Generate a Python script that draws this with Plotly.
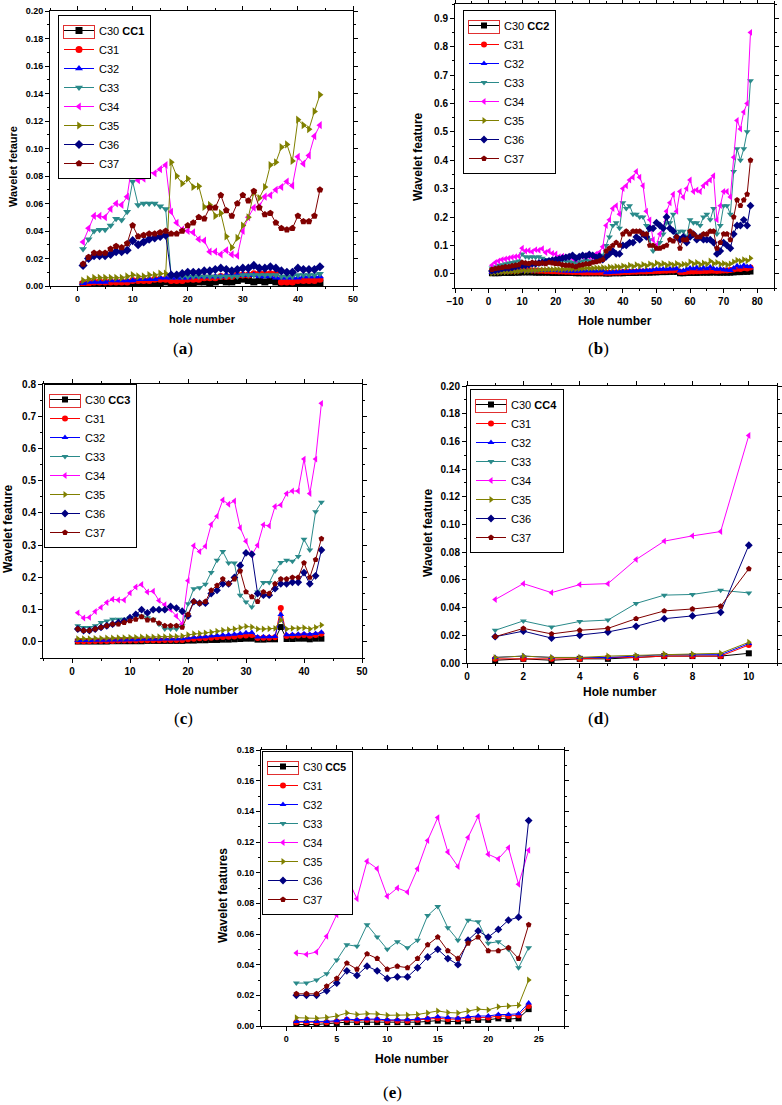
import plotly.graph_objects as go

W, H = 782, 1105

names = ["C30", "C31", "C32", "C33", "C34", "C35", "C36", "C37"]
colors = ["#000000", "#FF0000", "#0000FF", "#2A8A8A", "#FF00FF", "#808000", "#000080", "#800000"]
symbols = ["square", "circle", "triangle-up", "triangle-down", "triangle-left",
           "triangle-right", "diamond", "pentagon"]

# ---------------- (a) CC1 ----------------
a_x = list(range(1, 45))
a_C30 = [0.001,0.001,0.001,0.001,0.001,0.001,0.001,0.001,0.002,0.002,0.002,0.002,0.002,0.002,0.002,0.003,0.002,0.002,0.001,0.002,0.002,0.003,0.003,0.002,0.003,0.004,0.003,0.003,0.004,0.005,0.004,0.003,0.004,0.003,0.004,0.003,0.001,0.001,0.001,0.001,0.001,0.001,0.001,0.002]
a_C31 = [0.002,0.002,0.003,0.003,0.003,0.003,0.003,0.003,0.003,0.004,0.004,0.004,0.004,0.005,0.005,0.005,0.004,0.004,0.004,0.005,0.005,0.005,0.006,0.006,0.006,0.007,0.007,0.007,0.008,0.008,0.008,0.009,0.009,0.009,0.009,0.009,0.003,0.003,0.003,0.004,0.004,0.004,0.004,0.005]
a_C32 = [0.002,0.003,0.003,0.003,0.003,0.004,0.004,0.004,0.004,0.004,0.005,0.005,0.005,0.005,0.006,0.006,0.006,0.006,0.006,0.006,0.007,0.007,0.007,0.007,0.007,0.007,0.008,0.008,0.008,0.008,0.008,0.008,0.007,0.007,0.007,0.006,0.006,0.006,0.006,0.006,0.007,0.007,0.007,0.007]
a_C33 = [0.027,0.034,0.040,0.041,0.041,0.044,0.049,0.048,0.054,0.076,0.059,0.060,0.060,0.060,0.058,0.056,0.007,0.007,0.007,0.007,0.007,0.007,0.007,0.007,0.007,0.007,0.007,0.007,0.007,0.008,0.008,0.008,0.008,0.008,0.008,0.008,0.007,0.007,0.007,0.008,0.008,0.008,0.008,0.009]
a_C34 = [0.032,0.042,0.051,0.051,0.050,0.056,0.060,0.059,0.065,0.0915,0.077,0.078,0.083,0.082,0.085,0.088,0.054,0.046,0.041,0.040,0.039,0.034,0.033,0.025,0.025,0.023,0.026,0.023,0.022,0.040,0.050,0.057,0.058,0.065,0.066,0.070,0.072,0.076,0.073,0.094,0.089,0.095,0.109,0.117]
a_C35 = [0.004,0.005,0.006,0.006,0.006,0.006,0.006,0.006,0.007,0.008,0.007,0.007,0.008,0.008,0.009,0.009,0.090,0.080,0.0745,0.078,0.072,0.0725,0.0575,0.059,0.051,0.053,0.036,0.028,0.035,0.044,0.050,0.068,0.064,0.072,0.088,0.090,0.101,0.103,0.091,0.121,0.117,0.114,0.127,0.139]
a_C36 = [0.015,0.020,0.022,0.022,0.022,0.023,0.025,0.025,0.026,0.033,0.030,0.032,0.034,0.035,0.036,0.037,0.008,0.008,0.009,0.010,0.010,0.010,0.011,0.011,0.012,0.013,0.012,0.011,0.012,0.013,0.013,0.015,0.013,0.013,0.014,0.013,0.011,0.010,0.010,0.013,0.012,0.012,0.012,0.014]
a_C37 = [0.016,0.021,0.024,0.024,0.024,0.027,0.029,0.028,0.031,0.044,0.036,0.037,0.038,0.038,0.039,0.040,0.038,0.038,0.040,0.044,0.046,0.050,0.049,0.057,0.057,0.066,0.055,0.051,0.060,0.066,0.062,0.069,0.057,0.052,0.053,0.046,0.042,0.041,0.042,0.051,0.047,0.047,0.051,0.070]

# ---------------- (b) CC2 ----------------
b_x = list(range(1, 79))
b_C30 = [0.002,0.002,0.002,0.003,0.003,0.003,0.003,0.004,0.004,0.005,
         0.005,0.005,0.005,0.004,0.004,0.004,0.004,0.004,0.003,0.003,
         0.003,0.003,0.003,0.003,0.003,0.002,0.002,0.002,0.002,0.002,
         0.002,0.002,0.002,0.002,0.001,0.001,0.002,0.002,0.002,0.002,
         0.003,0.003,0.003,0.003,0.004,0.004,0.004,0.004,0.005,0.005,
         0.006,0.006,0.006,0.007,0.007,0.007,0.002,0.002,0.003,0.003,
         0.003,0.003,0.004,0.004,0.004,0.004,0.005,0.004,0.004,0.004,
         0.004,0.004,0.005,0.006,0.006,0.007,0.007,0.008]
b_C31 = [0.008,0.009,0.009,0.010,0.010,0.011,0.011,0.012,0.012,0.015,
         0.013,0.013,0.012,0.012,0.011,0.011,0.010,0.010,0.009,0.009,
         0.008,0.008,0.007,0.007,0.006,0.006,0.006,0.005,0.005,0.005,
         0.005,0.005,0.005,0.005,0.004,0.004,0.005,0.005,0.005,0.006,
         0.006,0.006,0.007,0.007,0.008,0.008,0.008,0.009,0.009,0.010,
         0.010,0.011,0.011,0.012,0.012,0.013,0.006,0.006,0.007,0.008,
         0.008,0.009,0.009,0.010,0.010,0.011,0.011,0.010,0.011,0.012,
         0.012,0.013,0.015,0.018,0.017,0.020,0.019,0.022]
b_C32 = [0.005,0.006,0.006,0.007,0.007,0.008,0.008,0.009,0.009,0.012,
         0.010,0.010,0.011,0.011,0.012,0.012,0.012,0.013,0.012,0.012,
         0.011,0.011,0.010,0.010,0.009,0.009,0.010,0.010,0.011,0.011,
         0.010,0.010,0.011,0.011,0.004,0.005,0.006,0.006,0.007,0.008,
         0.008,0.009,0.010,0.010,0.012,0.011,0.013,0.012,0.014,0.016,
         0.015,0.017,0.016,0.018,0.017,0.019,0.010,0.012,0.016,0.020,
         0.018,0.022,0.017,0.021,0.018,0.024,0.019,0.016,0.018,0.014,
         0.013,0.012,0.020,0.028,0.024,0.030,0.026,0.025]
b_C33 = [0.020,0.025,0.030,0.032,0.035,0.038,0.040,0.042,0.045,0.070,
         0.060,0.058,0.060,0.058,0.060,0.055,0.050,0.048,0.050,0.045,
         0.045,0.048,0.045,0.042,0.040,0.038,0.042,0.045,0.048,0.045,
         0.045,0.050,0.055,0.065,0.100,0.130,0.170,0.180,0.160,0.250,
         0.230,0.240,0.210,0.210,0.200,0.200,0.170,0.120,0.080,0.100,
         0.110,0.140,0.180,0.180,0.210,0.140,0.150,0.150,0.130,0.190,
         0.180,0.180,0.170,0.200,0.210,0.190,0.230,0.140,0.170,0.240,
         0.240,0.210,0.360,0.440,0.400,0.440,0.500,0.680]
b_C34 = [0.030,0.040,0.045,0.050,0.052,0.055,0.058,0.060,0.062,0.090,
         0.080,0.082,0.078,0.085,0.083,0.088,0.075,0.080,0.072,0.070,
         0.060,0.062,0.058,0.060,0.055,0.050,0.058,0.062,0.065,0.060,
         0.058,0.070,0.075,0.095,0.170,0.190,0.230,0.240,0.210,0.300,
         0.310,0.330,0.340,0.360,0.340,0.310,0.220,0.190,0.120,0.100,
         0.140,0.160,0.220,0.250,0.280,0.220,0.290,0.270,0.300,0.330,
         0.290,0.295,0.290,0.310,0.320,0.330,0.345,0.190,0.240,0.290,
         0.290,0.270,0.410,0.540,0.510,0.570,0.600,0.850]
b_C35 = [0.003,0.004,0.005,0.006,0.006,0.007,0.008,0.008,0.009,0.012,
         0.010,0.011,0.012,0.012,0.013,0.014,0.014,0.015,0.015,0.016,
         0.015,0.016,0.017,0.016,0.018,0.017,0.018,0.019,0.020,0.019,
         0.020,0.021,0.020,0.022,0.020,0.024,0.022,0.026,0.023,0.028,
         0.024,0.030,0.026,0.032,0.027,0.033,0.028,0.035,0.030,0.038,
         0.032,0.036,0.030,0.035,0.031,0.036,0.030,0.034,0.032,0.042,
         0.035,0.040,0.033,0.038,0.034,0.045,0.036,0.040,0.034,0.036,
         0.032,0.035,0.042,0.048,0.044,0.050,0.046,0.055]
b_C36 = [0.010,0.012,0.015,0.018,0.020,0.020,0.022,0.025,0.028,0.030,
         0.030,0.032,0.035,0.035,0.038,0.040,0.042,0.045,0.048,0.050,
         0.052,0.055,0.058,0.060,0.065,0.055,0.060,0.065,0.062,0.068,
         0.065,0.058,0.062,0.050,0.060,0.070,0.080,0.070,0.070,0.100,
         0.100,0.110,0.110,0.130,0.120,0.140,0.130,0.160,0.160,0.180,
         0.170,0.160,0.200,0.160,0.150,0.130,0.120,0.130,0.110,0.130,
         0.140,0.120,0.130,0.120,0.120,0.120,0.110,0.070,0.080,0.110,
         0.100,0.090,0.140,0.170,0.170,0.190,0.170,0.240]
b_C37 = [0.015,0.018,0.020,0.022,0.025,0.025,0.028,0.030,0.032,0.040,
         0.038,0.036,0.040,0.038,0.036,0.038,0.035,0.040,0.038,0.036,
         0.035,0.032,0.030,0.030,0.028,0.025,0.030,0.032,0.035,0.035,
         0.040,0.042,0.045,0.050,0.080,0.090,0.100,0.110,0.100,0.140,
         0.150,0.140,0.150,0.150,0.150,0.140,0.140,0.100,0.100,0.090,
         0.090,0.095,0.100,0.120,0.115,0.130,0.090,0.120,0.120,0.150,
         0.140,0.130,0.130,0.140,0.140,0.150,0.150,0.090,0.110,0.140,
         0.140,0.120,0.200,0.260,0.240,0.260,0.280,0.400]

# ---------------- (c) CC3 ----------------
c_x = list(range(1, 44))
c_C30 = [0.001,0.001,0.001,0.001,0.001,0.001,0.002,0.002,0.002,0.002,0.002,0.002,0.003,0.003,0.003,0.003,0.003,0.003,0.003,0.004,0.004,0.005,0.005,0.006,0.006,0.007,0.007,0.008,0.009,0.010,0.010,0.007,0.007,0.008,0.008,0.046,0.009,0.009,0.010,0.010,0.008,0.010,0.010]
c_C31 = [0.002,0.002,0.002,0.003,0.003,0.003,0.003,0.004,0.004,0.004,0.004,0.005,0.005,0.005,0.005,0.006,0.006,0.006,0.006,0.008,0.010,0.011,0.012,0.013,0.014,0.015,0.016,0.017,0.019,0.020,0.021,0.012,0.013,0.013,0.014,0.105,0.018,0.019,0.020,0.021,0.019,0.021,0.025]
c_C32 = [0.004,0.004,0.004,0.005,0.005,0.005,0.006,0.006,0.006,0.007,0.007,0.008,0.008,0.008,0.008,0.009,0.009,0.009,0.010,0.012,0.014,0.015,0.016,0.018,0.020,0.021,0.022,0.024,0.026,0.028,0.029,0.015,0.016,0.016,0.017,0.085,0.022,0.023,0.024,0.025,0.024,0.026,0.030]
c_C33 = [0.050,0.045,0.045,0.050,0.060,0.065,0.070,0.070,0.070,0.075,0.080,0.080,0.075,0.070,0.055,0.040,0.040,0.040,0.050,0.118,0.165,0.168,0.179,0.215,0.253,0.280,0.245,0.245,0.145,0.124,0.108,0.155,0.184,0.184,0.220,0.246,0.253,0.250,0.265,0.318,0.285,0.404,0.433]
c_C34 = [0.090,0.074,0.076,0.094,0.107,0.122,0.132,0.130,0.130,0.152,0.170,0.178,0.155,0.157,0.128,0.115,0.100,0.080,0.056,0.190,0.298,0.280,0.297,0.364,0.390,0.440,0.427,0.437,0.354,0.312,0.270,0.300,0.363,0.360,0.420,0.425,0.460,0.468,0.468,0.567,0.460,0.567,0.740]
c_C35 = [0.010,0.010,0.010,0.011,0.011,0.012,0.012,0.013,0.013,0.014,0.014,0.015,0.015,0.015,0.016,0.016,0.017,0.017,0.018,0.022,0.025,0.026,0.028,0.030,0.033,0.036,0.038,0.040,0.044,0.048,0.046,0.040,0.040,0.041,0.042,0.068,0.040,0.042,0.042,0.044,0.040,0.045,0.052]
c_C36 = [0.040,0.035,0.035,0.040,0.045,0.050,0.055,0.060,0.065,0.075,0.085,0.100,0.090,0.100,0.100,0.100,0.110,0.105,0.095,0.080,0.125,0.120,0.120,0.150,0.160,0.180,0.180,0.200,0.237,0.276,0.272,0.150,0.145,0.145,0.165,0.180,0.180,0.185,0.185,0.215,0.180,0.205,0.285]
c_C37 = [0.040,0.035,0.035,0.040,0.045,0.050,0.055,0.055,0.060,0.065,0.070,0.078,0.068,0.068,0.058,0.050,0.050,0.050,0.045,0.085,0.125,0.120,0.125,0.160,0.175,0.195,0.180,0.195,0.220,0.155,0.140,0.125,0.155,0.150,0.180,0.195,0.195,0.200,0.200,0.245,0.200,0.255,0.320]

# ---------------- (d) CC4 ----------------
d_x = list(range(1, 11))
d_C30 = [0.002,0.003,0.002,0.003,0.003,0.004,0.005,0.005,0.005,0.007]
d_C31 = [0.003,0.003,0.003,0.003,0.004,0.004,0.005,0.005,0.005,0.013]
d_C32 = [0.004,0.005,0.004,0.004,0.004,0.005,0.006,0.006,0.006,0.014]
d_C33 = [0.0236,0.0304,0.026,0.030,0.031,0.043,0.049,0.0495,0.0525,0.0506]
d_C34 = [0.0458,0.0573,0.0508,0.0566,0.0573,0.0747,0.088,0.0918,0.0949,0.1643]
d_C35 = [0.004,0.005,0.004,0.004,0.005,0.0055,0.0065,0.0065,0.007,0.015]
d_C36 = [0.019,0.023,0.018,0.020,0.0224,0.0265,0.032,0.034,0.0366,0.085]
d_C37 = [0.019,0.025,0.021,0.0236,0.025,0.032,0.0376,0.039,0.041,0.068]

# ---------------- (e) CC5 ----------------
e_x = list(range(1, 25))
e_C30 = [0.001,0.001,0.001,0.0015,0.002,0.0025,0.0025,0.0025,0.0025,0.0025,0.0025,0.0025,0.0025,0.003,0.0035,0.003,0.003,0.0035,0.004,0.004,0.005,0.0045,0.005,0.011]
e_C31 = [0.0025,0.0025,0.0025,0.0025,0.003,0.004,0.0035,0.004,0.004,0.0035,0.0035,0.0035,0.004,0.0045,0.005,0.0045,0.0045,0.005,0.0055,0.0055,0.0065,0.0065,0.007,0.013]
e_C32 = [0.003,0.003,0.003,0.003,0.0035,0.0045,0.004,0.0045,0.0045,0.004,0.004,0.004,0.0045,0.005,0.006,0.0055,0.005,0.006,0.0065,0.0065,0.0075,0.0075,0.008,0.015]
e_C33 = [0.028,0.028,0.030,0.034,0.043,0.053,0.052,0.066,0.058,0.050,0.055,0.051,0.056,0.072,0.078,0.064,0.056,0.069,0.068,0.054,0.055,0.050,0.038,0.051]
e_C34 = [0.0476,0.0467,0.0483,0.0585,0.0726,0.0972,0.083,0.1074,0.1026,0.0846,0.090,0.0874,0.1026,0.121,0.1359,0.1135,0.104,0.123,0.1367,0.112,0.109,0.1163,0.0924,0.1146]
e_C35 = [0.0054,0.005,0.005,0.0055,0.0065,0.0085,0.0075,0.008,0.0078,0.007,0.007,0.0072,0.0075,0.0085,0.0098,0.0088,0.0085,0.0098,0.011,0.0105,0.0125,0.013,0.0135,0.030]
e_C36 = [0.020,0.020,0.020,0.023,0.028,0.036,0.033,0.039,0.036,0.031,0.032,0.032,0.038,0.045,0.050,0.044,0.040,0.056,0.062,0.058,0.063,0.069,0.071,0.134]
e_C37 = [0.021,0.021,0.021,0.026,0.031,0.041,0.037,0.047,0.044,0.037,0.039,0.038,0.044,0.053,0.058,0.049,0.044,0.054,0.058,0.049,0.049,0.051,0.044,0.066]

FONT = "Liberation Sans"


def px_x(v):
    return v / W


def px_y(v):
    return 1 - v / H


panels = [
    dict(tag="CC1", x=a_x, ys=[a_C30, a_C31, a_C32, a_C33, a_C34, a_C35, a_C36, a_C37],
         box=(50, 353, 11, 286), xr=[-5, 50], yr=[0, 0.2], xd=10, xm=5, yd=0.02, ym=0.01,
         yf=".2f", tf=9, msize=7, legpos=(58, 15), legfont=11,
         ytitle="Wavelet fetaure", ytpos=(13, 167), xtitle="hole number", xtpos=(202, 319),
         tsize=11, cap="a", cappos=(183, 348)),
    dict(tag="CC2", x=b_x, ys=[b_C30, b_C31, b_C32, b_C33, b_C34, b_C35, b_C36, b_C37],
         box=(455, 774, 4, 288), xr=[-10, 85], yr=[-0.05, 0.95], xd=10, xm=5, yd=0.1, ym=0.05,
         yf=".1f", tf=10, msize=6, legpos=(463, 10), legfont=11,
         ytitle="Wavelet feature", ytpos=(418, 157), xtitle="Hole number", xtpos=(615, 321),
         tsize=12, cap="b", cappos=(598, 348)),
    dict(tag="CC3", x=c_x, ys=[c_C30, c_C31, c_C32, c_C33, c_C34, c_C35, c_C36, c_C37],
         box=(43, 362, 384, 658), xr=[-5, 50], yr=[-0.05, 0.8], xd=10, xm=5, yd=0.1, ym=0.05,
         yf=".1f", tf=10, msize=6, legpos=(44, 384), legfont=11,
         ytitle="Wavelet feature", ytpos=(8, 529), xtitle="Hole number", xtpos=(202, 690),
         tsize=12, cap="c", cappos=(183, 718)),
    dict(tag="CC4", x=d_x, ys=[d_C30, d_C31, d_C32, d_C33, d_C34, d_C35, d_C36, d_C37],
         box=(467, 777, 386, 663), xr=[0, 11], yr=[0, 0.2], xd=2, xm=1, yd=0.02, ym=0.01,
         yf=".2f", tf=10, msize=6, legpos=(470, 389), legfont=11,
         ytitle="Wavelet feature", ytpos=(428, 533), xtitle="Hole number", xtpos=(620, 692),
         tsize=12, cap="d", cappos=(598, 718)),
    dict(tag="CC5", x=e_x, ys=[e_C30, e_C31, e_C32, e_C33, e_C34, e_C35, e_C36, e_C37],
         box=(261, 564, 750, 1026), xr=[-2.5, 27.5], yr=[0, 0.18], xd=5, xm=2.5, yd=0.02, ym=0.01,
         yf=".2f", tf=9, msize=6, legpos=(262, 751), legfont=10.5,
         ytitle="Wavelet features", ytpos=(223, 896), xtitle="Hole number", xtpos=(412, 1059),
         tsize=12, cap="e", cappos=(392, 1092)),
]

fig = go.Figure()
layout = dict(width=W, height=H, margin=dict(l=0, r=0, t=0, b=0),
              paper_bgcolor="white", plot_bgcolor="white", showlegend=True,
              font=dict(family=FONT, color="black"))
annotations = []

for i, p in enumerate(panels):
    n = "" if i == 0 else str(i + 1)
    xa, ya = "x" + n, "y" + n
    leg = "legend" + n
    for k in range(8):
        nm = names[k] + (" <b>" + p["tag"] + "</b>" if k == 0 else "")
        fig.add_trace(go.Scatter(
            x=p["x"], y=p["ys"][k], name=nm, mode="lines+markers",
            xaxis=xa, yaxis=ya, legend=leg,
            line=dict(color=colors[k], width=1),
            marker=dict(symbol=symbols[k], color=colors[k], size=p["msize"], line=dict(width=0)),
        ))
    x0, x1, y0, y1 = p["box"]
    common = dict(showline=True, linecolor="black", linewidth=1, mirror="allticks",
                  ticks="outside", ticklen=4, tickcolor="black", tickwidth=1,
                  showgrid=False, zeroline=False, automargin=False,
                  tickfont=dict(family=FONT, size=p["tf"], color="black", weight="bold"))
    layout["xaxis" + n] = dict(domain=[px_x(x0), px_x(x1)], range=p["xr"], dtick=p["xd"], tick0=0,
                               anchor=ya, minor=dict(ticks="outside", ticklen=2, dtick=p["xm"], tick0=0,
                                                     tickcolor="black", showgrid=False), **common)
    layout["yaxis" + n] = dict(domain=[px_y(y1), px_y(y0)], range=p["yr"], dtick=p["yd"], tick0=0,
                               tickformat=p["yf"], anchor=xa,
                               minor=dict(ticks="outside", ticklen=2, dtick=p["ym"], tick0=0,
                                          tickcolor="black", showgrid=False), **common)
    lx, ly = p["legpos"]
    layout[leg] = dict(x=px_x(lx), y=px_y(ly), xanchor="left", yanchor="top",
                       xref="paper", yref="paper",
                       bgcolor="white", bordercolor="black", borderwidth=1,
                       font=dict(family=FONT, size=p["legfont"], color="black"),
                       tracegroupgap=0, itemwidth=30)
    # red selection frame around the first legend symbol (as in the source figure)
    annotations.append(dict(text="\u00a0", x=px_x(lx + 21), y=px_y(ly + 17),
                            xref="paper", yref="paper", showarrow=False,
                            xanchor="center", yanchor="middle", width=30, height=12,
                            bordercolor="#E03030", borderwidth=1, borderpad=0,
                            font=dict(size=6)))
    tx, ty = p["ytpos"]
    annotations.append(dict(text="<b>" + p["ytitle"] + "</b>", x=px_x(tx), y=px_y(ty),
                            xref="paper", yref="paper", showarrow=False, textangle=-90,
                            xanchor="center", yanchor="middle",
                            font=dict(family=FONT, size=p["tsize"], color="black")))
    tx, ty = p["xtpos"]
    annotations.append(dict(text="<b>" + p["xtitle"] + "</b>", x=px_x(tx), y=px_y(ty),
                            xref="paper", yref="paper", showarrow=False,
                            xanchor="center", yanchor="middle",
                            font=dict(family=FONT, size=p["tsize"], color="black")))
    cx, cy = p["cappos"]
    annotations.append(dict(text="(<b>" + p["cap"] + "</b>)", x=px_x(cx), y=px_y(cy),
                            xref="paper", yref="paper", showarrow=False,
                            xanchor="center", yanchor="middle",
                            font=dict(family="Liberation Serif", size=17, color="black")))

layout["annotations"] = annotations
fig.update_layout(**layout)
fig.write_html("out.html", config={"displayModeBar": False},
               post_script="document.body.style.margin='0';document.body.style.padding='0';")
